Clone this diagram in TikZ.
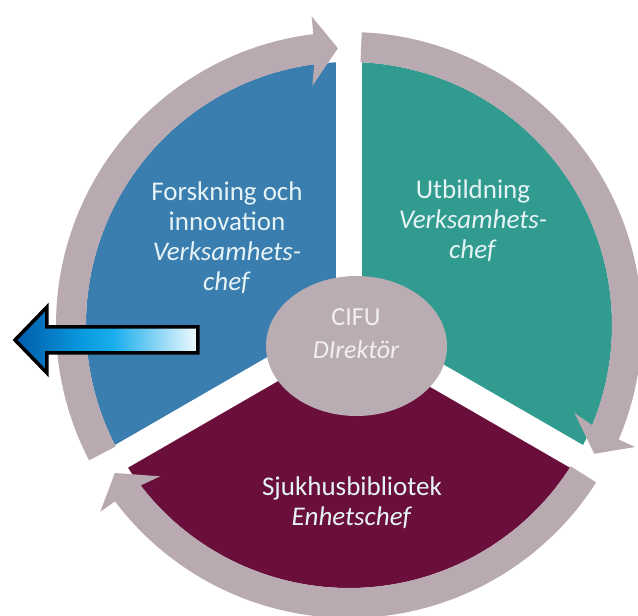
\documentclass[tikz,border=0pt]{standalone}
\usepackage{fontspec}
\setmainfont{Carlito}
\definecolor{segblue}{HTML}{3A7DAF}
\definecolor{segteal}{HTML}{319B8F}
\definecolor{segmaroon}{HTML}{6A0E3B}
\definecolor{ringgray}{HTML}{B8AAB0}
\definecolor{hubgray}{HTML}{B9ADB3}
\definecolor{arrdark}{HTML}{005BAA}
\definecolor{arrmid}{HTML}{0A9BE0}
\definecolor{arrcyan}{HTML}{1AAEEC}
\definecolor{arrlight}{HTML}{F2FAFE}
\definecolor{txtlight}{HTML}{E6F3F5}
\definecolor{hubtxt}{HTML}{F3EEF1}
\pgfdeclarehorizontalshading{arrowshade}{100bp}{color(0bp)=(arrdark); color(25bp)=(arrdark); color(44bp)=(arrmid); color(52bp)=(arrcyan); color(75bp)=(arrlight); color(100bp)=(arrlight)}
\tikzset{
  seglabel/.style={align=center, text=txtlight, font=\fontsize{27}{30}\selectfont, inner sep=0pt},
  hublabel/.style={align=center, text=hubtxt, font=\fontsize{26}{33}\selectfont, inner sep=0pt},
  ringarrow/.style={fill=ringgray},
  gapline/.style={draw=white, line width=26pt},
  bluearrow/.style={draw=black, line width=3.5pt, line join=miter, shading=arrowshade}
}
\begin{document}
\begin{tikzpicture}
\useasboundingbox (-349pt,-291pt) rectangle (289pt,325pt);
\clip (-349pt,-291pt) rectangle (289pt,325pt);
\fill[white] (-349pt,-291pt) rectangle (289pt,325pt);
% segments
\fill[segblue] (0,0) -- (90:263pt) arc[start angle=90, end angle=210, radius=263pt] -- cycle;
\fill[segteal] (0,0) -- (-30:263pt) arc[start angle=-30, end angle=90, radius=263pt] -- cycle;
\fill[segmaroon] (0,0) -- (210:263pt) arc[start angle=210, end angle=330, radius=263pt] -- cycle;
% gaps
\coordinate (c) at (0,0);
\foreach \g in {90,210,330}{
  \draw[gapline] (c) -- (\g:320pt);
}
% ring arrows
\foreach \r in {0,120,240}{
  \pgfmathsetmacro\s{207.5-\r}
  \pgfmathsetmacro\bo{97.0-\r}
  \pgfmathsetmacro\bob{96.9-\r}
  \pgfmathsetmacro\t{92.3-\r}
  \pgfmathsetmacro\bib{98.7-\r}
  \pgfmathsetmacro\bi{97.6-\r}
  \fill[ringarrow] (\s:293pt) arc[start angle=\s, end angle=\bo, radius=293pt]
    -- (\bob:311pt) -- (\t:277pt) -- (\bib:242pt) -- (\bi:263pt)
    arc[start angle=\bi, end angle=\s, radius=263pt] -- cycle;
}
% hub
\fill[hubgray] (7.5pt,-21pt) ellipse[x radius=90.5pt, y radius=70pt];
\node[hublabel] (hub) at (7pt,-9pt) {CIFU\\\textit{DIrektör}};
% labels
\node[seglabel] (forsk) at (-122pt,87pt) {Forskning och\\innovation\\\textit{Verksamhets-}\\\textit{chef}};
\node[seglabel] (utb) at (124pt,104pt) {Utbildning\\\textit{Verksamhets-}\\\textit{chef}};
\node[seglabel] (sjuk) at (3pt,-178pt) {Sjukhusbibliotek\\\textit{Enhetschef}};
% blue arrow
\path[bluearrow] (-151pt,-2pt) -- (-302pt,-2pt) -- (-302pt,18pt) -- (-334pt,-15pt)
  -- (-302pt,-48pt) -- (-302pt,-28pt) -- (-151pt,-28pt) -- cycle;
\end{tikzpicture}
\end{document}
